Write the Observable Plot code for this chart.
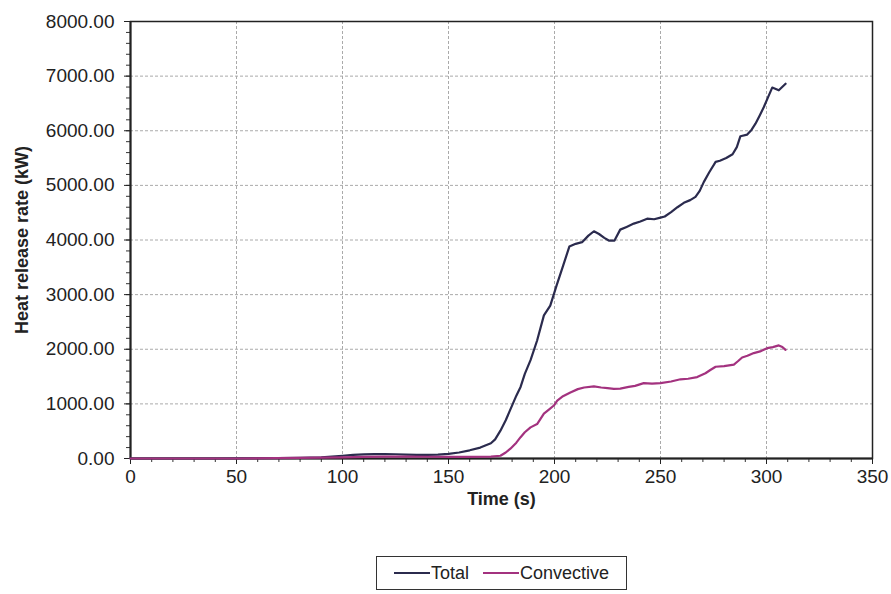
<!DOCTYPE html>
<html>
<head>
<meta charset="utf-8">
<script src="https://cdn.jsdelivr.net/npm/d3@7"></script>
<script src="https://cdn.jsdelivr.net/npm/@observablehq/plot@0.6"></script>
<style>
  body { margin: 0; background: #fff; font-family: "Liberation Sans", Arial, sans-serif; }
  #wrap { width: 891px; }
  #chart svg { display: block; }
  #chart svg g[aria-label="x-axis tick label"], #chart svg g[aria-label="y-axis tick label"] { font-size: 19px !important; }
  #legend { margin-left: 376px; margin-top: 41px; width: 251px; height: 34px; border: 1px solid #333;
    box-sizing: border-box; display: flex; align-items: center; justify-content: center; font-size: 18px; color: #222; }
  #legend .item { display: flex; align-items: center; }
  #legend .sw { display: inline-block; width: 36px; height: 2px; margin-right: 1px; }
</style>
</head>
<body>
<div id="wrap">
  <div id="chart"></div>
  <div id="legend"></div>
</div>
<script>
const seriesNames = ["Total", "Convective"];
const seriesColors = ["#2b2b4e", "#a3327f"];

const totalTime = [0, 20, 40, 60, 80, 90, 95, 100, 105, 110, 115, 120, 125, 130, 135, 140, 145, 150, 155, 160, 165, 170, 172, 174.5, 177, 179, 182, 184, 186, 188.7, 191.8, 195, 198, 201, 204, 207, 210, 213, 216, 218.6, 221, 223.5, 225.6, 228.3, 231, 234, 237.4, 240.5, 243.7, 247, 250, 252, 255, 258, 261, 264, 266.5, 268.5, 270.4, 273, 276, 278, 281, 284, 286, 287.7, 290.9, 293, 294.8, 296.8, 298.7, 300.8, 302.7, 305.8, 309];
const totalHRR = [0, 0, 0, 5, 10, 20, 35, 50, 65, 75, 80, 80, 78, 72, 68, 66, 70, 85, 110, 150, 200, 280, 350, 510, 700, 880, 1150, 1310, 1550, 1800, 2160, 2620, 2800, 3170, 3520, 3880, 3930, 3960, 4080, 4160, 4110, 4040, 3990, 3990, 4190, 4240, 4300, 4340, 4390, 4380, 4410, 4430, 4510, 4600, 4680, 4730, 4790, 4900, 5060, 5240, 5430, 5450, 5500, 5570, 5700, 5900, 5930, 6020, 6130, 6280, 6430, 6620, 6790, 6740, 6860];

const convTime = [0, 50, 100, 110, 120, 130, 140, 150, 160, 170, 174.5, 177, 179.2, 182, 184, 186, 188.7, 191.8, 195, 197.5, 199.7, 201.3, 204, 207.5, 211, 214, 218.6, 222, 225, 228, 231, 235, 238, 242.1, 246, 250, 255, 259.4, 263, 267.3, 271.2, 273.5, 276, 280, 284.6, 286.5, 288.5, 291, 294, 297, 300.3, 303, 305.8, 307.5, 309];
const convHRR = [0, 0, 20, 30, 35, 35, 32, 30, 30, 35, 50, 110, 180, 290, 390, 480, 570, 630, 820, 900, 970, 1060, 1140, 1210, 1270, 1300, 1320, 1300, 1290, 1275, 1280, 1310, 1330, 1380, 1370, 1380, 1410, 1450, 1460, 1490, 1560, 1620, 1680, 1690, 1720, 1780, 1850, 1880, 1930, 1960, 2020, 2040, 2070, 2040, 1990];

const xTicks = [0, 50, 100, 150, 200, 250, 300, 350];
const yTicks = [0, 1000, 2000, 3000, 4000, 5000, 6000, 7000, 8000];

const data = [
  ...totalTime.map((t, i) => ({t, v: totalHRR[i], s: seriesNames[0]})),
  ...convTime.map((t, i) => ({t, v: convHRR[i], s: seriesNames[1]}))
];

const xMinor = d3.range(0, 351, 10);
const yMinor = d3.range(0, 8001, 200);

const chart = Plot.plot({
  width: 891,
  height: 515,
  marginLeft: 130,
  marginRight: 19,
  marginTop: 21,
  marginBottom: 57,
  style: {fontFamily: "'Liberation Sans', Arial, sans-serif", fontSize: "18px", color: "#222", background: "#fff"},
  x: {domain: [0, 350]},
  y: {domain: [0, 8000]},
  color: {domain: seriesNames, range: seriesColors},
  marks: [
    Plot.gridX(xTicks.slice(1, -1), {stroke: "#aaaaaa", strokeOpacity: 1, strokeDasharray: "3,2"}),
    Plot.gridY(yTicks.slice(1, -1), {stroke: "#aaaaaa", strokeOpacity: 1, strokeDasharray: "3,2"}),
    Plot.axisX(xMinor, {tickSize: 4, text: null, label: null, stroke: "#333"}),
    Plot.axisY(yMinor, {tickSize: 4, text: null, label: null, stroke: "#333"}),
    Plot.axisX(xTicks, {tickSize: 6, tickPadding: 5, label: null, stroke: "#222"}),
    Plot.axisY(yTicks, {tickSize: 6, tickPadding: 10, label: null, tickFormat: d3.format(".2f"), stroke: "#222"}),
    Plot.frame({stroke: "#222", strokeWidth: 1.5}),
    Plot.ruleY([0], {stroke: "#222", strokeWidth: 2}),
    Plot.ruleX([0], {stroke: "#222", strokeWidth: 2}),
    Plot.line(data, {x: "t", y: "v", z: "s", stroke: "s", strokeWidth: 2.2}),
    Plot.text(["Time (s)"], {frameAnchor: "bottom", dy: 46, fontSize: 18, fontWeight: "bold", fill: "#222"}),
    Plot.text(["Heat release rate (kW)"], {frameAnchor: "left", dx: -108, rotate: -90, textAnchor: "middle", fontSize: 18, fontWeight: "bold", fill: "#222"})
  ]
});
document.getElementById("chart").appendChild(chart);

const legend = document.getElementById("legend");
seriesNames.forEach((name, i) => {
  const item = document.createElement("span");
  item.className = "item";
  item.style.marginRight = i === 0 ? "14px" : "0";
  const sw = document.createElement("span");
  sw.className = "sw";
  sw.style.background = seriesColors[i];
  item.appendChild(sw);
  item.appendChild(document.createTextNode(name));
  legend.appendChild(item);
});
</script>
</body>
</html>
